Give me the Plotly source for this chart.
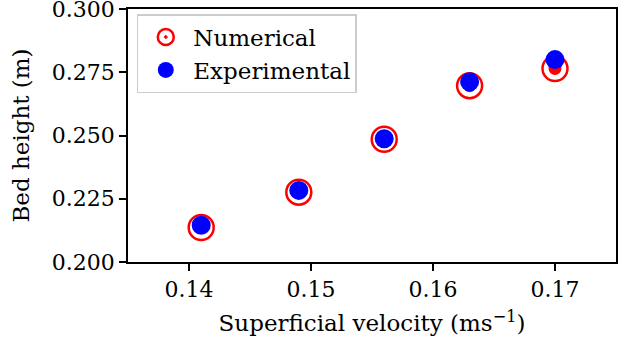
import plotly.graph_objects as go

velocity = [0.141, 0.149, 0.156, 0.163, 0.170]
numerical = [0.2136, 0.2276, 0.2485, 0.2697, 0.2765]
experimental = [0.2145, 0.2283, 0.2487, 0.2712, 0.2800]
x_ticks = [0.14, 0.15, 0.16, 0.17]
y_ticks = [0.200, 0.225, 0.250, 0.275, 0.300]

FONT = "DejaVu Serif"

fig = go.Figure()
fig.add_trace(go.Scatter(
    x=velocity, y=numerical, mode="markers", name="Numerical",
    marker=dict(symbol="circle-dot", size=25, color="white",
                line=dict(color="#ff0000", width=2.5)),
))
fig.add_trace(go.Scatter(
    x=velocity, y=numerical, mode="markers", showlegend=False,
    marker=dict(symbol="circle", size=13, color="#ff0000", line=dict(width=0)),
))
fig.add_trace(go.Scatter(
    x=velocity, y=experimental, mode="markers", name="Experimental",
    marker=dict(symbol="circle", size=19, color="#0000ff", line=dict(width=0)),
))

axis_common = dict(
    showline=True, linecolor="black", linewidth=1.5, mirror=True,
    ticks="outside", ticklen=7, tickwidth=1.5, tickcolor="black",
    showgrid=False, zeroline=False, automargin=False,
    ticklabeloverflow="allow",
    tickfont=dict(family=FONT, size=22, color="black"),
)

fig.update_layout(
    width=629, height=350,
    margin=dict(l=128, r=13, t=9, b=88),
    paper_bgcolor="white", plot_bgcolor="white",
    font=dict(family=FONT, size=22, color="black"),
    xaxis=dict(range=[0.135, 0.175], tickvals=x_ticks,
               ticktext=[f"{v:.2f}" for v in x_ticks],
               title=dict(text="Superficial velocity (ms<sup>−1</sup>)",
                          font=dict(family=FONT, size=23), standoff=14),
               **axis_common),
    yaxis=dict(range=[0.19999, 0.30001], tickvals=y_ticks,
               ticktext=[f"{v:.3f}" for v in y_ticks],
               title=dict(text="Bed height (m)",
                          font=dict(family=FONT, size=23), standoff=16),
               **axis_common),
    legend=dict(x=0.018, y=0.98, xanchor="left", yanchor="top",
                bgcolor="rgba(255,255,255,0.85)", bordercolor="#cccccc",
                borderwidth=1.5, font=dict(family=FONT, size=23),
                itemwidth=45, tracegroupgap=0),
    showlegend=True,
)

fig.write_html("out.html", config={"displayModeBar": False},
               post_script="document.body.style.margin='0';")
